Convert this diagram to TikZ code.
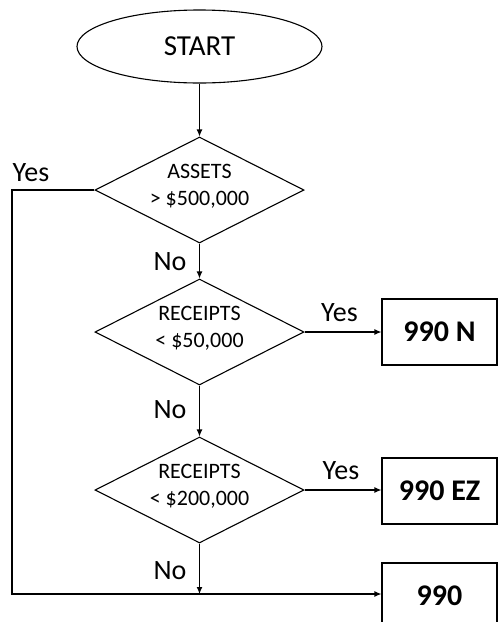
\documentclass[tikz,border=0pt]{standalone}
\usepackage{fontspec}
\setmainfont{Carlito}
\usetikzlibrary{shapes.geometric,arrows.meta}
\begin{document}
\begin{tikzpicture}[x=1pt,y=-1pt,
  line width=1.1pt,
  arr/.style={-{Latex[length=7pt,width=6pt]}},
  startnode/.style={ellipse,draw,minimum width=245pt,minimum height=73pt,inner sep=0pt,font=\fontsize{29}{32}\selectfont},
  decision/.style={diamond,draw,minimum width=209pt,minimum height=106pt,inner sep=0pt},
  dtext/.style={inner sep=0pt,align=center,font=\fontsize{22}{27}\selectfont},
  outbox/.style={rectangle,draw,minimum width=115pt,minimum height=66pt,inner sep=0pt,font=\fontsize{30}{32}\selectfont\bfseries},
  lbl/.style={inner sep=0pt,font=\fontsize{28}{30}\selectfont}]
\clip (0,0) rectangle (498,622);
\node[startnode] (start) at (199.5,46.5) {START};
\node[decision] (d1) at (199.5,190) {};
\node[decision] (d2) at (199.5,332) {};
\node[decision] (d3) at (199.5,490) {};
\node[dtext] (t1) at (199.5,186.5) {ASSETS\\ > \$500,000};
\node[dtext] (t2) at (199.5,328.5) {RECEIPTS\\ < \$50,000};
\node[dtext] (t3) at (199.5,486.5) {RECEIPTS\\ < \$200,000};
\node[outbox] (bn) at (439.5,332) {990 N};
\node[outbox] (bez) at (439.5,491) {990 EZ};
\node[outbox] (b990) at (439.5,596) {990};
\coordinate (lc) at (12,594);
\coordinate (jn) at (199.5,594);
\draw[arr] (start) -- (d1);
\draw[arr] (d1) -- (d2);
\draw[arr] (d2) -- (d3);
\draw[arr] (d2.east) -- (bn.west |- d2.east);
\draw[arr] (d3.east) -- (bez.west |- d3.east);
\draw[arr] (d3.south) -- (jn);
\draw[arr] (d1.west) -| (lc) -- (lc -| b990.west);
\node[lbl] (y1) at (31,173) {Yes};
\node[lbl] (y2) at (339.5,313) {Yes};
\node[lbl] (y3) at (341,471) {Yes};
\node[lbl] (n1) at (170,262) {No};
\node[lbl] (n2) at (170,410) {No};
\node[lbl] (n3) at (170,571) {No};
\end{tikzpicture}
\end{document}
